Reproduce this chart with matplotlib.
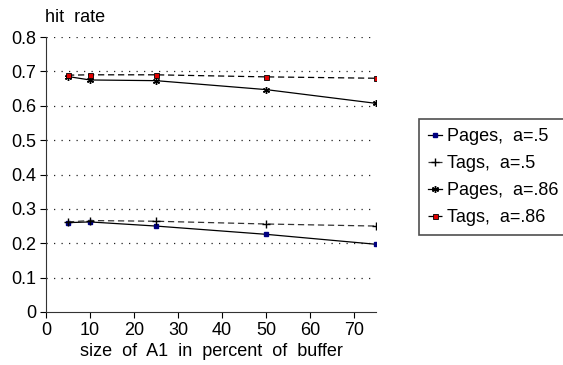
import matplotlib
matplotlib.use("Agg")
import matplotlib.pyplot as plt

plt.rcParams['font.family'] = ['Liberation Sans', 'DejaVu Sans']

a1_size = [5, 10, 25, 50, 75]
pages_a05 = [0.260, 0.262, 0.250, 0.226, 0.197]
tags_a05 = [0.262, 0.266, 0.264, 0.256, 0.250]
pages_a086 = [0.685, 0.675, 0.673, 0.647, 0.607]
tags_a086 = [0.689, 0.690, 0.690, 0.684, 0.680]

y_ticks = [0, 0.1, 0.2, 0.3, 0.4, 0.5, 0.6, 0.7, 0.8]
y_labels = ["0", "0.1", "0.2", "0.3", "0.4", "0.5", "0.6", "0.7", "0.8"]
x_ticks = [0, 10, 20, 30, 40, 50, 60, 70]

fs = 13
fig = plt.figure(figsize=(5.63, 3.65), dpi=100)
ax = fig.add_axes([46 / 563, 1 - 312 / 365, (376 - 46) / 563, (312 - 37) / 365])

# dotted horizontal gridlines
for y in y_ticks[1:]:
    ax.axhline(y, color='#222222', linestyle=(0, (1, 5)), linewidth=0.9, zorder=0)

ax.plot(a1_size, pages_a05, color='black', linewidth=0.9, marker='s', markersize=2.5,
        markerfacecolor='#000080', markeredgecolor='#000080', label='Pages,  a=.5')
ax.plot(a1_size, tags_a05, color='#333333', linewidth=0.9, linestyle=(0, (5, 3)), marker='+',
        markersize=6, markeredgewidth=1.0, markeredgecolor='black', label='Tags,  a=.5')
ax.plot(a1_size, pages_a086, color='black', linewidth=0.9, marker=(6, 2, 0), markersize=5,
        markeredgewidth=1.0, markeredgecolor='black', label='Pages,  a=.86')
ax.plot(a1_size, tags_a086, color='black', linewidth=0.9, linestyle=(0, (5, 3)), marker='s',
        markersize=3.6, markerfacecolor='#e00000', markeredgecolor='black', markeredgewidth=0.6,
        label='Tags,  a=.86')

ax.set_xlim(0, 75)
ax.set_ylim(0, 0.8)
ax.set_xticks(x_ticks)
ax.set_yticks(y_ticks)
ax.set_yticklabels(y_labels)
ax.spines['top'].set_visible(False)
ax.spines['right'].set_visible(False)
ax.spines['left'].set_color('#333333')
ax.spines['bottom'].set_color('#333333')
ax.tick_params(direction='out', length=4, width=0.8, labelsize=fs, colors='black', pad=3)

ax.set_xlabel('size  of  A1  in  percent  of  buffer', fontsize=fs, labelpad=3)
fig.text(45 / 563, 1 - 17 / 365, 'hit  rate', fontsize=fs, va='center', ha='left')

leg = fig.legend(loc='upper left', bbox_to_anchor=(419 / 563, 1 - 119 / 365),
                 frameon=True, fancybox=False, fontsize=fs, handlelength=0.8,
                 handletextpad=0.25, borderpad=0.5, labelspacing=0.55, borderaxespad=0)
leg.get_frame().set_edgecolor('#222222')
leg.get_frame().set_linewidth(1.2)

fig.savefig('out.png', dpi=100)
